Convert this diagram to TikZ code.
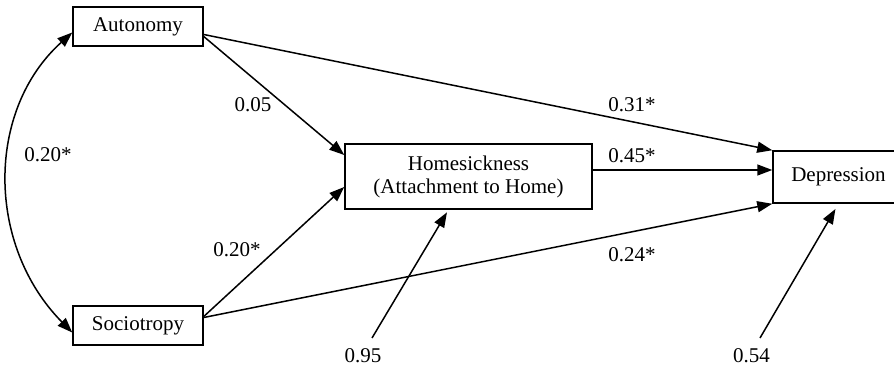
\documentclass[tikz,border=0pt]{standalone}
\usepackage{fontspec}
\setmainfont{Liberation Serif}
\usetikzlibrary{arrows.meta,calc}
\begin{document}
\begin{tikzpicture}[x=1pt,y=-1pt,
  every node/.style={font=\fontsize{21}{25}\selectfont},
  box/.style={draw,line width=1.5pt,inner sep=0pt,align=center},
  path/.style={line width=1.5pt,-{Triangle[length=15pt,width=11pt]}},
  lbl/.style={inner sep=0pt}]
\useasboundingbox (0,0) rectangle (894,366);
\node[box,minimum width=130pt,minimum height=39pt] (aut) at (138,26.5) {Autonomy};
\node[box,minimum width=130pt,minimum height=39pt] (soc) at (138,325.5) {Sociotropy};
\node[box,minimum width=247pt,minimum height=65pt] (hs) at (468.5,176.5) {Homesickness\\[-2pt](Attachment to Home)};
\node[box,minimum width=131pt,minimum height=52pt] (dep) at (838.5,177) {Depression};
% curved correlation
\draw[line width=1.5pt,{Triangle[length=15pt,width=11pt]}-{Triangle[length=15pt,width=11pt]}]
  ([yshift=-6pt]aut.west) .. controls (-14,110) and (-14,245) .. ([yshift=-7pt]soc.west);
% paths
\draw[path] ([yshift=-8pt]aut.east) -- (dep.north west);
\draw[path] ([yshift=-10pt]aut.east) -- ([yshift=21.5pt]hs.west);
\draw[path] ([yshift=9pt]soc.east) -- ([yshift=-10.5pt]hs.west);
\draw[path] ([yshift=8pt]soc.east) -- (dep.south west);
\draw[path] ([yshift=6.5pt]hs.east) -- ([yshift=6.5pt]hs.east -| dep.west);
% errors
\coordinate (e1) at (372,338);
\coordinate (e2) at (760,338);
\draw[path,shorten >=3pt] (e1) -- ([xshift=-20pt]hs.south);
\draw[path,shorten >=6pt] (e2) -- (dep.south);
% labels
\node[lbl] (l1) at (253,105) {0.05};
\node[lbl] (l2) at (48,154.5) {0.20*};
\node[lbl] (l3) at (237,250) {0.20*};
\node[lbl] (l4) at (632,105) {0.31*};
\node[lbl] (l5) at (632,155.5) {0.45*};
\node[lbl] (l6) at (632,255) {0.24*};
\node[lbl] (l7) at (363,355.5) {0.95};
\node[lbl] (l8) at (751.5,355.5) {0.54};
\end{tikzpicture}
\end{document}
